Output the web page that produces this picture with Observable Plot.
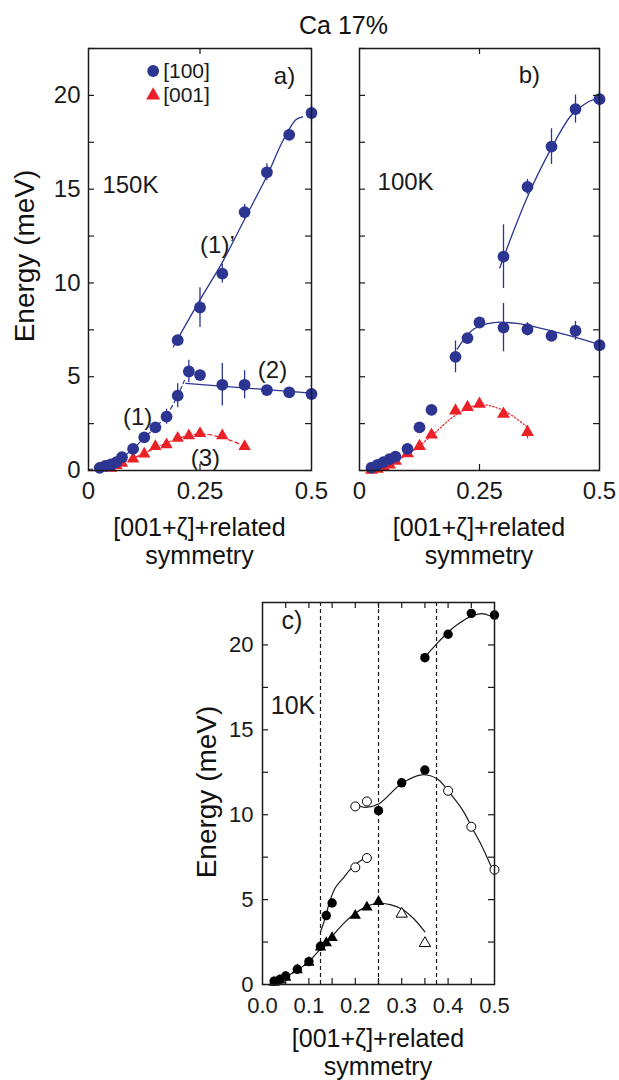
<!DOCTYPE html>
<html>
<head>
<meta charset="utf-8">
<script src="https://cdn.jsdelivr.net/npm/d3@7"></script>
<script src="https://cdn.jsdelivr.net/npm/@observablehq/plot@0.6"></script>
<style>
  html, body { margin: 0; padding: 0; background: #fff; }
  #root { position: relative; width: 619px; height: 1080px; overflow: hidden; font-family: 'Liberation Sans', Arial, Helvetica, sans-serif; color: #111; }
  .pl { position: absolute; }
  .lbl { position: absolute; transform: translate(-50%, -50%); white-space: nowrap; line-height: 1; }
  .rot { transform: translate(-50%, -50%) rotate(-90deg); }
</style>
</head>
<body>
<div id="root"></div>
<script>
// ---------------- DATA ----------------
const BLUE = "#2c3591";
const RED = "#ec2027";
const INK = "#1a1a1a";
const FONT = "'Liberation Sans', Arial, Helvetica, sans-serif";

// Panel a) 150K
const a100X = [0.025, 0.0375, 0.05, 0.0625, 0.075, 0.10, 0.125, 0.15, 0.175, 0.20, 0.225, 0.25, 0.30, 0.35, 0.40, 0.45, 0.50, 0.20, 0.25, 0.30, 0.35, 0.40, 0.45, 0.50];
const a100Y = [0.14, 0.25, 0.32, 0.45, 0.71, 1.15, 1.77, 2.30, 2.87, 3.99, 5.28, 5.09, 4.57, 4.57, 4.29, 4.17, 4.08, 6.95, 8.69, 10.5, 13.78, 15.9, 17.9, 19.06];
const a100E = [0, 0, 0, 0, 0, 0, 0, 0, 0.4, 0.64, 0.6, 0, 1.13, 0.75, 0, 0, 0, 0, 1.06, 0.5, 0.4, 0.45, 0.3, 0.45];
const a001X = [0.05, 0.0625, 0.075, 0.10, 0.125, 0.15, 0.175, 0.20, 0.225, 0.25, 0.30, 0.35];
const a001Y = [0.12, 0.27, 0.39, 0.62, 0.89, 1.29, 1.38, 1.72, 1.86, 1.98, 1.86, 1.29];
// fitted guide curves
const a1pX = [0.19, 0.25, 0.30, 0.35, 0.40, 0.43, 0.45, 0.465, 0.48];
const a1pY = [6.6, 9.1, 11.1, 13.4, 15.7, 17.3, 18.2, 18.7, 18.85];
const a1X = [0.0, 0.025, 0.05, 0.075, 0.10, 0.125, 0.15, 0.175, 0.20, 0.215];
const a1Y = [0.05, 0.15, 0.35, 0.7, 1.15, 1.75, 2.3, 2.95, 4.0, 4.8];
const a2X = [0.218, 0.5];
const a2Y = [4.65, 4.12];
const a3X = [0.0, 0.05, 0.10, 0.15, 0.20, 0.25, 0.30, 0.34];
const a3Y = [0.02, 0.2, 0.65, 1.2, 1.7, 1.95, 1.75, 1.4];

// Panel b) 100K
const b100X = [0.025, 0.0375, 0.05, 0.0625, 0.075, 0.10, 0.125, 0.15, 0.20, 0.225, 0.25, 0.30, 0.35, 0.40, 0.45, 0.50, 0.30, 0.35, 0.40, 0.45, 0.50];
const b100Y = [0.15, 0.3, 0.45, 0.6, 0.74, 1.15, 2.30, 3.23, 6.06, 7.06, 7.89, 7.62, 7.53, 7.18, 7.45, 6.68, 11.4, 15.12, 17.27, 19.27, 19.8];
const b100E = [0, 0, 0, 0, 0, 0, 0, 0, 0.85, 0, 0, 1.29, 0.35, 0, 0.5, 0, 1.7, 0.4, 0.95, 0.75, 0.4];
const b001X = [0.025, 0.0375, 0.05, 0.0625, 0.075, 0.10, 0.125, 0.15, 0.20, 0.225, 0.25, 0.30, 0.35];
const b001Y = [0.02, 0.08, 0.2, 0.3, 0.5, 0.9, 1.29, 1.9, 3.19, 3.37, 3.55, 3.01, 2.04];
const b001E = [0, 0, 0, 0, 0, 0, 0, 0, 0, 0, 0, 0, 0.35];
const bUpX = [0.292, 0.32, 0.35, 0.40, 0.44, 0.467, 0.488, 0.50];
const bUpY = [10.8, 12.7, 14.6, 17.2, 18.9, 19.5, 19.77, 19.8];
const bMidX = [0.2035, 0.238, 0.28, 0.328, 0.4257, 0.50];
const bMidY = [6.47, 7.54, 7.89, 7.84, 7.27, 6.7];
const bRedX = [0.02, 0.05, 0.10, 0.15, 0.20, 0.25, 0.30, 0.35];
const bRedY = [0.02, 0.2, 0.85, 1.85, 2.95, 3.5, 3.2, 2.3];

// Panel c) 10K
const cFullCircX = [0.025, 0.0375, 0.05, 0.075, 0.10, 0.125, 0.1375, 0.15, 0.25, 0.30, 0.35, 0.35, 0.40, 0.45, 0.50];
const cFullCircY = [0.2, 0.3, 0.5, 0.9, 1.35, 2.25, 4.06, 4.8, 10.24, 11.88, 12.63, 19.25, 20.63, 21.86, 21.76];
const cOpenCircX = [0.20, 0.225, 0.40, 0.45, 0.50, 0.20, 0.225];
const cOpenCircY = [10.49, 10.78, 11.41, 9.29, 6.76, 6.9, 7.45];
const cFullTriX = [0.025, 0.0375, 0.05, 0.075, 0.10, 0.125, 0.1375, 0.15, 0.20, 0.225, 0.25];
const cFullTriY = [0.12, 0.25, 0.42, 0.85, 1.3, 2.2, 2.45, 2.75, 4.06, 4.55, 4.88];
const cOpenTriX = [0.30, 0.35];
const cOpenTriY = [4.16, 2.43];
const cTopX = [0.355, 0.38, 0.40, 0.42, 0.45, 0.472, 0.49, 0.50];
const cTopY = [19.45, 20.2, 20.75, 21.2, 21.7, 21.85, 21.72, 21.55];
const cMidX = [0.20, 0.222, 0.25, 0.30, 0.343, 0.377, 0.40, 0.433, 0.454, 0.47, 0.50];
const cMidY = [10.6, 10.43, 10.63, 11.84, 12.35, 12.1, 11.4, 10.2, 9.1, 8.3, 6.5];
const cSteepX = [0.125, 0.135, 0.145, 0.157, 0.175, 0.197, 0.228];
const cSteepY = [3.1, 3.9, 4.9, 5.7, 6.3, 7.0, 7.55];
const cDomeX = [0.02, 0.05, 0.075, 0.10, 0.125, 0.15, 0.175, 0.20, 0.225, 0.25, 0.275, 0.30, 0.325, 0.35];
const cDomeY = [0.1, 0.45, 0.85, 1.35, 2.1, 2.85, 3.6, 4.2, 4.6, 4.8, 4.7, 4.45, 3.9, 3.1];
const cDashX = [0.125, 0.25, 0.375];

// ticks
const abXLabels = [0, 0.25, 0.5];
const abXLabelText = ["0", "0.25", "0.5"];
const abYLabels = [0, 5, 10, 15, 20];
const abYMinor = [0, 2.5, 5, 7.5, 10, 12.5, 15, 17.5, 20, 22.5];
const abXMinor = [0.25];
const cXLabels = [0, 0.1, 0.2, 0.3, 0.4, 0.5];
const cXLabelText = ["0.0", "0.1", "0.2", "0.3", "0.4", "0.5"];
const cXMinor = [0.05, 0.1, 0.15, 0.2, 0.25, 0.3, 0.35, 0.4, 0.45];
const cYLabels = [0, 5, 10, 15, 20];
const cYMinor = [2.5, 5, 7.5, 10, 12.5, 15, 17.5, 20];

// annotations
const aNotes = [
  {x: 0.4395, y: 21.0, t: "a)"},
  {x: 0.094, y: 15.2, t: "150K"},
  {x: 0.289, y: 12.0, t: "(1)’"},
  {x: 0.4126, y: 5.32, t: "(2)"},
  {x: 0.11, y: 2.82, t: "(1)"},
  {x: 0.262, y: 0.64, t: "(3)"}
];
const aLegendCirc = [{x: 0.145, y: 21.3, t: "[100]"}];
const aLegendTri = [{x: 0.145, y: 20.0, t: "[001]"}];
const bNotes = [
  {x: 0.354, y: 21.06, t: "b)"},
  {x: 0.096, y: 15.37, t: "100K"}
];
const cNotes = [
  {x: 0.0636, y: 21.4, t: "c)"},
  {x: 0.0657, y: 16.41, t: "10K"}
];

// ---------------- helpers ----------------
const pts = (xs, ys, es) => xs.map((x, i) => ({x, y: ys[i], e: es ? es[i] : 0}));

function ticksMarks(fw, fh, xMinor, yMinor, len) {
  return [
    Plot.tickY(yMinor, {y: d => d, insetRight: fw - len, stroke: INK, strokeWidth: 1.2}),
    Plot.tickY(yMinor, {y: d => d, insetLeft: fw - len, stroke: INK, strokeWidth: 1.2}),
    Plot.tickX(xMinor, {x: d => d, insetBottom: fh - len, stroke: INK, strokeWidth: 1.2}),
    Plot.tickX(xMinor, {x: d => d, insetTop: fh - len, stroke: INK, strokeWidth: 1.2})
  ];
}

function place(svg, left, top) {
  const wrap = document.createElement("div");
  wrap.className = "pl";
  wrap.style.left = left + "px";
  wrap.style.top = top + "px";
  wrap.appendChild(svg);
  document.getElementById("root").appendChild(wrap);
}

function label(text, x, y, size, rot) {
  const d = document.createElement("div");
  d.className = "lbl" + (rot ? " rot" : "");
  d.style.left = x + "px";
  d.style.top = y + "px";
  d.style.fontSize = size + "px";
  d.textContent = text;
  document.getElementById("root").appendChild(d);
}

// ---------------- panel a ----------------
{
  const W = 330, H = 580, ml = 88, mr = 19, mt = 48, mb = 110;
  const fw = W - ml - mr, fh = H - mt - mb;
  const dots = pts(a100X, a100Y, a100E);
  const tris = pts(a001X, a001Y);
  const svg = Plot.plot({
    width: W, height: H, marginLeft: ml, marginRight: mr, marginTop: mt, marginBottom: mb,
    x: {domain: [0, 0.5], label: null}, y: {domain: [0, 22.5], label: null},
    style: {fontFamily: FONT, fontSize: "24px", color: INK, background: "transparent", overflow: "visible"},
    marks: [
      Plot.line(pts(a3X, a3Y), {x: "x", y: "y", curve: "catmull-rom", stroke: RED, strokeWidth: 1.2, strokeDasharray: "4,3"}),
      Plot.line(pts(a1X, a1Y), {x: "x", y: "y", curve: "catmull-rom", stroke: BLUE, strokeWidth: 1.2, strokeDasharray: "4,3"}),
      Plot.line(pts(a1pX, a1pY), {x: "x", y: "y", curve: "catmull-rom", stroke: BLUE, strokeWidth: 1.3}),
      Plot.line(pts(a2X, a2Y), {x: "x", y: "y", stroke: BLUE, strokeWidth: 1.3}),
      Plot.ruleX(dots.filter(d => d.e > 0), {x: "x", y1: d => d.y - d.e, y2: d => d.y + d.e, stroke: BLUE, strokeWidth: 1.3}),
      Plot.dot(tris, {x: "x", y: "y", symbol: "triangle", r: 4.6, fill: RED}),
      Plot.dot(dots, {x: "x", y: "y", r: 5.9, fill: BLUE}),
      Plot.frame({stroke: INK, strokeWidth: 1.5}),
      ...ticksMarks(fw, fh, abXMinor, abYMinor, 6),
      Plot.axisX(abXLabels, {tickSize: 0, tickPadding: 11, tickFormat: (d, i) => abXLabelText[i], fontSize: 24, label: null}),
      Plot.axisY(abYLabels, {tickSize: 0, tickPadding: 8, fontSize: 24, label: null}),
      Plot.text(aNotes, {x: "x", y: "y", text: "t", fontSize: 24, fill: INK}),
      Plot.dot(aLegendCirc, {x: "x", y: "y", r: 5.9, fill: BLUE}),
      Plot.dot(aLegendTri, {x: "x", y: "y", symbol: "triangle", r: 5.2, fill: RED}),
      Plot.text([...aLegendCirc, ...aLegendTri], {x: "x", y: "y", text: "t", dx: 10, textAnchor: "start", fontSize: 21, fill: INK})
    ]
  });
  place(svg, 0, 0);
}

// ---------------- panel b ----------------
{
  const W = 289, H = 580, ml = 29, mr = 20, mt = 48, mb = 110;
  const fw = W - ml - mr, fh = H - mt - mb;
  const dots = pts(b100X, b100Y, b100E);
  const tris = pts(b001X, b001Y, b001E);
  const svg = Plot.plot({
    width: W, height: H, marginLeft: ml, marginRight: mr, marginTop: mt, marginBottom: mb,
    x: {domain: [0, 0.5], label: null}, y: {domain: [0, 22.5], label: null, axis: null},
    style: {fontFamily: FONT, fontSize: "24px", color: INK, background: "transparent", overflow: "visible"},
    marks: [
      Plot.line(pts(bRedX, bRedY), {x: "x", y: "y", curve: "catmull-rom", stroke: RED, strokeWidth: 1.2, strokeDasharray: "1.5,2"}),
      Plot.line(pts(bUpX, bUpY), {x: "x", y: "y", curve: "catmull-rom", stroke: BLUE, strokeWidth: 1.3}),
      Plot.line(pts(bMidX, bMidY), {x: "x", y: "y", curve: "catmull-rom", stroke: BLUE, strokeWidth: 1.3}),
      Plot.ruleX(dots.filter(d => d.e > 0), {x: "x", y1: d => d.y - d.e, y2: d => d.y + d.e, stroke: BLUE, strokeWidth: 1.3}),
      Plot.ruleX(tris.filter(d => d.e > 0), {x: "x", y1: d => d.y - d.e, y2: d => d.y + d.e, stroke: RED, strokeWidth: 1.3}),
      Plot.dot(tris, {x: "x", y: "y", symbol: "triangle", r: 4.8, fill: RED}),
      Plot.dot(dots, {x: "x", y: "y", r: 5.9, fill: BLUE}),
      Plot.frame({stroke: INK, strokeWidth: 1.5}),
      ...ticksMarks(fw, fh, abXMinor, abYMinor, 6),
      Plot.axisX(abXLabels, {tickSize: 0, tickPadding: 11, tickFormat: (d, i) => abXLabelText[i], fontSize: 24, label: null}),
      Plot.text(bNotes, {x: "x", y: "y", text: "t", fontSize: 24, fill: INK})
    ]
  });
  place(svg, 330, 0);
}

// ---------------- panel c ----------------
{
  const W = 350, H = 490, ml = 82, mr = 36, mt = 12, mb = 96;
  const fw = W - ml - mr, fh = H - mt - mb;
  const svg = Plot.plot({
    width: W, height: H, marginLeft: ml, marginRight: mr, marginTop: mt, marginBottom: mb,
    x: {domain: [0, 0.5], label: null}, y: {domain: [0, 22.5], label: null},
    style: {fontFamily: FONT, fontSize: "22px", color: INK, background: "transparent", overflow: "visible"},
    marks: [
      Plot.ruleX(cDashX, {x: d => d, stroke: INK, strokeWidth: 1.2, strokeDasharray: "4,3"}),
      Plot.line(pts(cTopX, cTopY), {x: "x", y: "y", curve: "catmull-rom", stroke: INK, strokeWidth: 1.2}),
      Plot.line(pts(cMidX, cMidY), {x: "x", y: "y", curve: "catmull-rom", stroke: INK, strokeWidth: 1.2}),
      Plot.line(pts(cSteepX, cSteepY), {x: "x", y: "y", curve: "catmull-rom", stroke: INK, strokeWidth: 1.2}),
      Plot.line(pts(cDomeX, cDomeY), {x: "x", y: "y", curve: "catmull-rom", stroke: INK, strokeWidth: 1.2}),
      Plot.dot(pts(cFullTriX, cFullTriY), {x: "x", y: "y", symbol: "triangle", r: 4.2, fill: "#000"}),
      Plot.dot(pts(cFullCircX, cFullCircY), {x: "x", y: "y", r: 4.7, fill: "#000"}),
      Plot.dot(pts(cOpenTriX, cOpenTriY), {x: "x", y: "y", symbol: "triangle", r: 4.2, fill: "#fff", stroke: "#000", strokeWidth: 1}),
      Plot.dot(pts(cOpenCircX, cOpenCircY), {x: "x", y: "y", r: 4.5, fill: "#fff", stroke: "#000", strokeWidth: 1}),
      Plot.frame({stroke: INK, strokeWidth: 1.5}),
      ...ticksMarks(fw, fh, cXMinor, cYMinor, 6),
      Plot.axisX(cXLabels, {tickSize: 0, tickPadding: 13, tickFormat: (d, i) => cXLabelText[i], fontSize: 22, label: null}),
      Plot.axisY(cYLabels, {tickSize: 0, tickPadding: 9, fontSize: 22, label: null}),
      Plot.text(cNotes, {x: "x", y: "y", text: "t", fontSize: 25, fill: INK})
    ]
  });
  place(svg, 180, 590);
}

// ---------------- titles ----------------
label("Ca 17%", 343.5, 25, 25);
label("Energy (meV)", 25, 256, 28, true);
label("[001+ζ]+related", 199.5, 527, 25);
label("symmetry", 199.5, 555, 25);
label("[001+ζ]+related", 479, 527, 25);
label("symmetry", 479, 555, 25);
label("Energy (meV)", 207, 792, 28, true);
label("[001+ζ]+related", 378, 1038, 25);
label("symmetry", 378, 1066, 25);
</script>
</body>
</html>
